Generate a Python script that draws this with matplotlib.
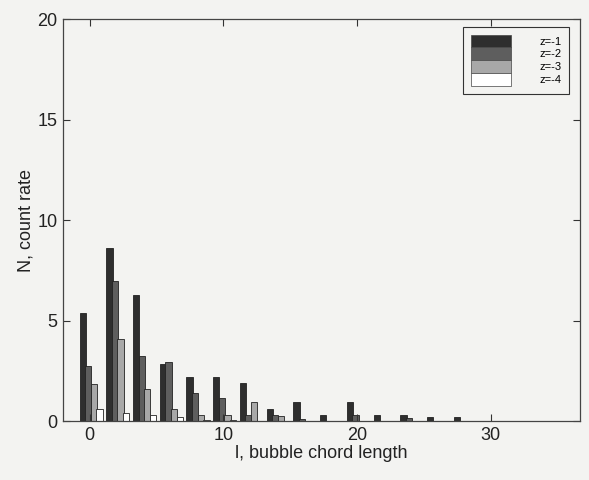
import numpy as np
import matplotlib.pyplot as plt

plt.rcParams['font.family'] = ['Liberation Sans', 'DejaVu Sans']

# bubble chord length bins
chord = np.arange(0, 30, 2)

# count rate per depth
n_z1 = [5.4, 8.6, 6.3, 2.85, 2.2, 2.2, 1.9, 0.63, 0.95, 0.3, 0.95, 0.3, 0.3, 0.2, 0.2]
n_z2 = [2.75, 7.0, 3.25, 2.95, 1.4, 1.15, 0.3, 0.3, 0.12, 0.0, 0.3, 0.0, 0.18, 0.0, 0.0]
n_z3 = [1.85, 4.1, 1.6, 0.63, 0.3, 0.3, 0.95, 0.28, 0.0, 0.0, 0.0, 0.0, 0.0, 0.0, 0.0]
n_z4 = [0.63, 0.41, 0.33, 0.2, 0.08, 0.08, 0.0, 0.0, 0.0, 0.0, 0.0, 0.0, 0.0, 0.0, 0.0]

series = [n_z1, n_z2, n_z3, n_z4]
labels = ["z=-1", "z=-2", "z=-3", "z=-4"]
colors = ["#2e2e2e", "#5e5e5e", "#a8a8a8", "#ffffff"]

bg = "#f3f3f1"
fig = plt.figure(figsize=(5.89, 4.80), dpi=100, facecolor=bg)
ax = fig.add_axes([0.107, 0.122, 0.878, 0.838], facecolor=bg)

step = 0.42
width = 0.47
for i, (vals, lab, col) in enumerate(zip(series, labels, colors)):
    ax.bar(chord + 0.1 + (i - 1.5) * step, vals, width=width, color=col,
           edgecolor="#222222", linewidth=0.6, label=lab)

ax.set_xlim(-2, 36.7)
ax.set_ylim(0, 20)
ax.set_xticks([0, 10, 20, 30])
ax.set_yticks([0, 5, 10, 15, 20])
ax.tick_params(direction="in", length=5, width=0.8, top=True, right=True,
               labelsize=13, pad=4, color="#333333", labelcolor="#222222")
for s in ax.spines.values():
    s.set_linewidth(0.9)
    s.set_color("#444444")

ax.set_xlabel("l, bubble chord length", fontsize=13, color="#222222", labelpad=1)
ax.set_ylabel("N, count rate", fontsize=13, color="#222222", labelpad=2)

leg = ax.legend(loc="upper right", fontsize=8, handlelength=3.6, handleheight=1.4,
                labelspacing=0.0, handletextpad=2.6, borderpad=0.7,
                fancybox=False, framealpha=1, facecolor=bg, edgecolor="#333333",
                bbox_to_anchor=(0.99, 0.995))
leg.get_frame().set_linewidth(0.8)
for h in leg.legend_handles:
    h.set_linewidth(0.5)
    h.set_edgecolor("#444444")

fig.savefig("out.png", dpi=100, facecolor=bg)
